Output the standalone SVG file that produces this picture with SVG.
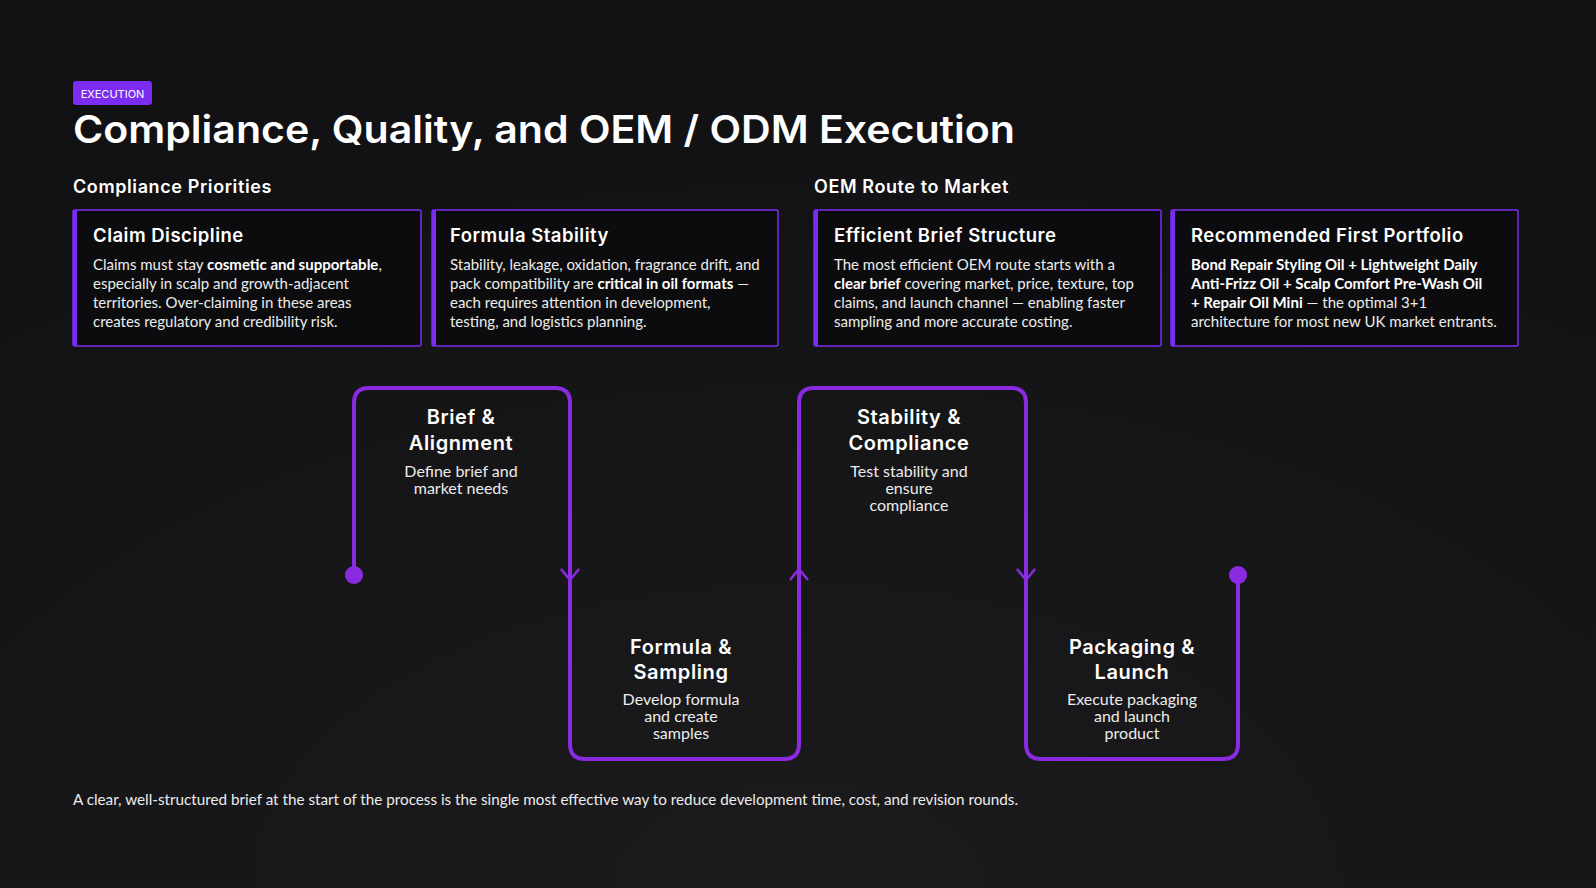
<svg xmlns="http://www.w3.org/2000/svg" width="1596" height="888" viewBox="0 0 1596 888">
<defs>
<radialGradient id="bg" cx="0.5" cy="1" r="1"><stop offset="0" stop-color="#1b1b1d"/><stop offset="1" stop-color="#111113"/></radialGradient>
<style>
.h{font-family:Inter,"Noto Sans",sans-serif;font-weight:600;fill:#fff}
.ch{font-size:18.5px;letter-spacing:0.5px}
.b{font-family:Lato,"Noto Sans",sans-serif;font-size:15px;fill:#ececec}
.b tspan.s{font-weight:700;fill:#fff}
.card{fill:#0c0c0e;stroke:#7b2cf0;stroke-width:1.5}
.bar{fill:#7b2cf0}
.flow{fill:none;stroke:#8a2be2;stroke-width:4;stroke-linejoin:round}
.st{font-family:Inter,"Noto Sans",sans-serif;font-weight:600;font-size:20px;letter-spacing:0.6px;fill:#fff;text-anchor:middle}
.sd{font-family:Lato,"Noto Sans",sans-serif;font-size:16px;fill:#ececec;text-anchor:middle}
</style>
</defs>
<rect width="1596" height="888" fill="url(#bg)"/>
<g id="tag"><rect x="73" y="81" width="79" height="24" rx="3" fill="#7b2cf0"/><text x="112.5" y="97.5" text-anchor="middle" font-family="Inter,sans-serif" font-size="11" fill="#fff">EXECUTION</text></g>
<text class="h" x="73" y="143" font-size="38" textLength="942" lengthAdjust="spacingAndGlyphs">Compliance, Quality, and OEM / ODM Execution</text>
<text class="h" x="73" y="193" font-size="18" letter-spacing="0.6">Compliance Priorities</text>
<text class="h" x="814" y="193" font-size="18" letter-spacing="0.6">OEM Route to Market</text>
<g id="card1"><rect class="card" x="73" y="210" width="348" height="136" rx="2"/><rect class="bar" x="73" y="210" width="4" height="136"/>
<text class="h ch" x="93" y="242">Claim Discipline</text>
<text class="b"><tspan x="93" y="270">Claims must stay <tspan class="s">cosmetic and supportable</tspan>,</tspan><tspan x="93" y="289">especially in scalp and growth-adjacent</tspan><tspan x="93" y="308">territories. Over-claiming in these areas</tspan><tspan x="93" y="327">creates regulatory and credibility risk.</tspan></text></g>
<g id="card2"><rect class="card" x="432" y="210" width="346" height="136" rx="2"/><rect class="bar" x="432" y="210" width="4" height="136"/>
<text class="h ch" x="450" y="242">Formula Stability</text>
<text class="b"><tspan x="450" y="270">Stability, leakage, oxidation, fragrance drift, and</tspan><tspan x="450" y="289">pack compatibility are <tspan class="s">critical in oil formats</tspan> —</tspan><tspan x="450" y="308">each requires attention in development,</tspan><tspan x="450" y="327">testing, and logistics planning.</tspan></text></g>
<g id="card3"><rect class="card" x="814" y="210" width="347" height="136" rx="2"/><rect class="bar" x="814" y="210" width="4" height="136"/>
<text class="h ch" x="834" y="242">Efficient Brief Structure</text>
<text class="b"><tspan x="834" y="270">The most efficient OEM route starts with a</tspan><tspan x="834" y="289"><tspan class="s">clear brief</tspan> covering market, price, texture, top</tspan><tspan x="834" y="308">claims, and launch channel — enabling faster</tspan><tspan x="834" y="327">sampling and more accurate costing.</tspan></text></g>
<g id="card4"><rect class="card" x="1171" y="210" width="347" height="136" rx="2"/><rect class="bar" x="1171" y="210" width="4" height="136"/>
<text class="h ch" x="1191" y="242">Recommended First Portfolio</text>
<text class="b"><tspan x="1191" y="270" class="s">Bond Repair Styling Oil + Lightweight Daily</tspan><tspan x="1191" y="289" class="s">Anti-Frizz Oil + Scalp Comfort Pre-Wash Oil</tspan><tspan x="1191" y="308"><tspan class="s">+ Repair Oil Mini</tspan> — the optimal 3+1</tspan><tspan x="1191" y="327">architecture for most new UK market entrants.</tspan></text></g>
<g id="connectors">
<path class="flow" d="M354 575 V403 Q354 388 369 388 H555 Q570 388 570 403 V744 Q570 759 585 759 H784 Q799 759 799 744 V403 Q799 388 814 388 H1011 Q1026 388 1026 403 V744 Q1026 759 1041 759 H1223 Q1238 759 1238 744 V575"/>
<circle cx="354" cy="575" r="9" fill="#8a2be2"/><circle cx="1238" cy="575" r="9" fill="#8a2be2"/>
<path d="M561 569 L570 580 L579 569 M790 580 L799 569 L808 580 M1017 569 L1026 580 L1035 569" fill="none" stroke="#8a2be2" stroke-width="2.5"/>
</g>
<g id="step1"><text class="st"><tspan x="461" y="424">Brief &amp;</tspan><tspan x="461" y="450">Alignment</tspan></text><text class="sd"><tspan x="461" y="477">Define brief and</tspan><tspan x="461" y="494">market needs</tspan></text></g>
<g id="step2"><text class="st"><tspan x="681" y="654">Formula &amp;</tspan><tspan x="681" y="679">Sampling</tspan></text><text class="sd"><tspan x="681" y="705">Develop formula</tspan><tspan x="681" y="722">and create</tspan><tspan x="681" y="739">samples</tspan></text></g>
<g id="step3"><text class="st"><tspan x="909" y="424">Stability &amp;</tspan><tspan x="909" y="450">Compliance</tspan></text><text class="sd"><tspan x="909" y="477">Test stability and</tspan><tspan x="909" y="494">ensure</tspan><tspan x="909" y="511">compliance</tspan></text></g>
<g id="step4"><text class="st"><tspan x="1132" y="654">Packaging &amp;</tspan><tspan x="1132" y="679">Launch</tspan></text><text class="sd"><tspan x="1132" y="705">Execute packaging</tspan><tspan x="1132" y="722">and launch</tspan><tspan x="1132" y="739">product</tspan></text></g>
<text x="73" y="805" font-family="Lato,'Noto Sans',sans-serif" font-size="15" fill="#ececec" textLength="945" lengthAdjust="spacingAndGlyphs">A clear, well-structured brief at the start of the process is the single most effective way to reduce development time, cost, and revision rounds.</text>
</svg>
